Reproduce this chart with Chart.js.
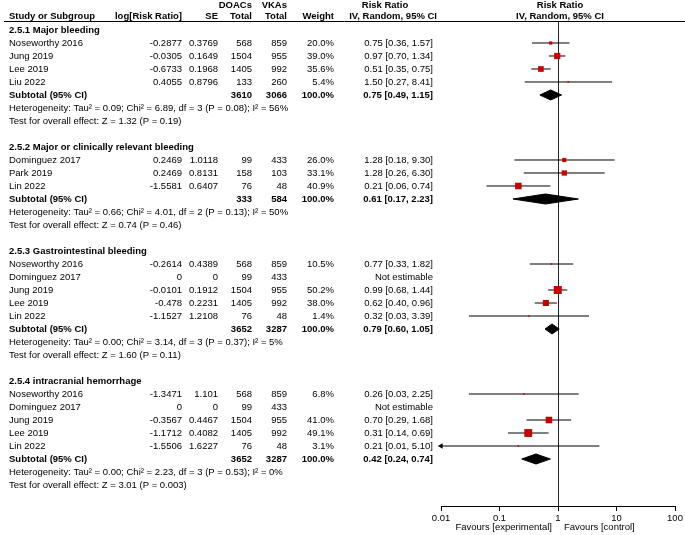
<!DOCTYPE html>
<html><head><meta charset="utf-8">
<script src="https://cdn.jsdelivr.net/npm/chart.js@4.4.0/dist/chart.umd.min.js"></script>
<style>html,body{margin:0;padding:0;background:#fff}#wrap{width:685px;height:535px;position:relative}</style>
</head><body><div id="wrap"><canvas id="c"></canvas></div>
<script>
// ---------- Subgroups ----------
const subgroupTitles = ["2.5.1 Major bleeding", "2.5.2 Major or clinically relevant bleeding", "2.5.3 Gastrointestinal bleeding", "2.5.4 intracranial hemorrhage"];
const subgroupDOACs = [3610, 333, 3652, 3652];
const subgroupVKAs = [3066, 584, 3287, 3287];
const subgroupRR = [0.75, 0.61, 0.79, 0.42];
const subgroupLow = [0.49, 0.17, 0.60, 0.24];
const subgroupHigh = [1.15, 2.23, 1.05, 0.74];
const heterogeneity = [
  "Heterogeneity: Tau\u00B2 = 0.09; Chi\u00B2 = 6.89, df = 3 (P = 0.08); I\u00B2 = 56%",
  "Heterogeneity: Tau\u00B2 = 0.66; Chi\u00B2 = 4.01, df = 2 (P = 0.13); I\u00B2 = 50%",
  "Heterogeneity: Tau\u00B2 = 0.00; Chi\u00B2 = 3.14, df = 3 (P = 0.37); I\u00B2 = 5%",
  "Heterogeneity: Tau\u00B2 = 0.00; Chi\u00B2 = 2.23, df = 3 (P = 0.53); I\u00B2 = 0%"
];
const overallTests = [
  "Test for overall effect: Z = 1.32 (P = 0.19)",
  "Test for overall effect: Z = 0.74 (P = 0.46)",
  "Test for overall effect: Z = 1.60 (P = 0.11)",
  "Test for overall effect: Z = 3.01 (P = 0.003)"
];

// ---------- Studies ----------
const studyGroup = [0,0,0,0, 1,1,1, 2,2,2,2,2, 3,3,3,3,3];
const studyNames = ["Noseworthy 2016","Jung 2019","Lee 2019","Liu 2022",
  "Dominguez 2017","Park 2019","Lin 2022",
  "Noseworthy 2016","Dominguez 2017","Jung 2019","Lee 2019","Lin 2022",
  "Noseworthy 2016","Dominguez 2017","Jung 2019","Lee 2019","Lin 2022"];
const logRR = [-0.2877,-0.0305,-0.6733,0.4055, 0.2469,0.2469,-1.5581, -0.2614,0,-0.0101,-0.478,-1.1527, -1.3471,0,-0.3567,-1.1712,-1.5506];
const seLog = [0.3769,0.1649,0.1968,0.8796, 1.0118,0.8131,0.6407, 0.4389,0,0.1912,0.2231,1.2108, 1.101,0,0.4467,0.4082,1.6227];
const doacTotal = [568,1504,1405,133, 99,158,76, 568,99,1504,1405,76, 568,99,1504,1405,76];
const vkaTotal = [859,955,992,260, 433,103,48, 859,433,955,992,48, 859,433,955,992,48];
const weights = [20.0,39.0,35.6,5.4, 26.0,33.1,40.9, 10.5,null,50.2,38.0,1.4, 6.8,null,41.0,49.1,3.1];
const riskRatio = [0.75,0.97,0.51,1.50, 1.28,1.28,0.21, 0.77,null,0.99,0.62,0.32, 0.26,null,0.70,0.31,0.21];
const ciLow = [0.36,0.70,0.35,0.27, 0.18,0.26,0.06, 0.33,null,0.68,0.40,0.03, 0.03,null,0.29,0.14,0.01];
const ciHigh = [1.57,1.34,0.75,8.41, 9.30,6.30,0.74, 1.82,null,1.44,0.96,3.39, 2.25,null,1.68,0.69,5.10];

// ---------- Axis ----------
const xTicks = [0.01, 0.1, 1, 10, 100];
const xTickLabels = ["0.01", "0.1", "1", "10", "100"];
const favoursLeft = "Favours [experimental]";
const favoursRight = "Favours [control]";

// ---------- Row layout ----------
const rows = [];
let rowIdx = 0;
subgroupTitles.forEach((t, g) => {
  if (g > 0) rowIdx++;
  rows.push({kind: 'title', g, r: rowIdx++});
  studyGroup.forEach((sg, i) => { if (sg === g) rows.push({kind: 'study', i, r: rowIdx++}); });
  rows.push({kind: 'subtotal', g, r: rowIdx++});
  rows.push({kind: 'het', g, r: rowIdx++});
  rows.push({kind: 'test', g, r: rowIdx++});
});
const studyRows = rows.filter(o => o.kind === 'study');
const subRows = rows.filter(o => o.kind === 'subtotal');

const squareData = studyRows.filter(o => riskRatio[o.i] != null)
  .map(o => ({x: riskRatio[o.i], y: o.r, w: weights[o.i]}));
const ciData = [];
studyRows.filter(o => riskRatio[o.i] != null).forEach(o => {
  ciData.push({x: Math.max(ciLow[o.i], xTicks[0]), y: o.r});
  ciData.push({x: ciHigh[o.i], y: o.r});
  ciData.push({x: 1, y: null});
});
const arrowData = studyRows.filter(o => ciLow[o.i] != null && ciLow[o.i] <= xTicks[0])
  .map(o => ({x: xTicks[0], y: o.r}));
const DH = 0.385;
const diamondSets = subRows.map(o => ({
  type: 'line',
  data: [
    {x: subgroupLow[o.g], y: o.r}, {x: subgroupRR[o.g], y: o.r - DH},
    {x: subgroupHigh[o.g], y: o.r}, {x: subgroupRR[o.g], y: o.r + DH},
    {x: subgroupLow[o.g], y: o.r}
  ],
  borderColor: '#000', backgroundColor: '#000', borderWidth: 1,
  fill: 'shape', pointRadius: 0, tension: 0
}));

const FONT = '"Liberation Sans", Arial, sans-serif';
const FS = 9.5;

const tablePlugin = {
  id: 'table',
  afterDraw(chart) {
    const ctx = chart.ctx;
    const ys = chart.scales.y, xs = chart.scales.x;
    const cName = 9, cLog = 182, cSE = 218, cD = 252, cV = 287, cW = 334, cRR = 433;
    const reg = FS + 'px ' + FONT, bold = 'bold ' + FS + 'px ' + FONT;
    const txt = (s, x, y, align, b) => {
      ctx.font = b ? bold : reg; ctx.textAlign = align; ctx.fillText(s, x, y);
    };
    ctx.save();
    ctx.fillStyle = '#000';
    ctx.textBaseline = 'middle';
    // header
    const h1 = 5.5, h2 = 16.5;
    txt('DOACs', cD, h1, 'right', true);
    txt('VKAs', cV, h1, 'right', true);
    txt('Risk Ratio', 385, h1, 'center', true);
    txt('Study or Subgroup', cName, h2, 'left', true);
    txt('log[Risk Ratio]', cLog, h2, 'right', true);
    txt('SE', cSE, h2, 'right', true);
    txt('Total', cD, h2, 'right', true);
    txt('Total', cV, h2, 'right', true);
    txt('Weight', cW, h2, 'right', true);
    txt('IV, Random, 95% CI', 437, h2, 'right', true);
    const mid = (xs.left + xs.right) / 2;
    txt('Risk Ratio', mid + 2, h1, 'center', true);
    txt('IV, Random, 95% CI', mid + 2, h2, 'center', true);
    ctx.strokeStyle = '#000'; ctx.lineWidth = 1;
    ctx.beginPath(); ctx.moveTo(4, 21.5); ctx.lineTo(685, 21.5); ctx.stroke();

    rows.forEach(o => {
      const y = ys.getPixelForValue(o.r);
      if (o.kind === 'title') txt(subgroupTitles[o.g], cName, y, 'left', true);
      else if (o.kind === 'study') {
        const i = o.i;
        txt(studyNames[i], cName, y, 'left');
        txt(String(logRR[i]), cLog, y, 'right');
        txt(String(seLog[i]), cSE, y, 'right');
        txt(String(doacTotal[i]), cD, y, 'right');
        txt(String(vkaTotal[i]), cV, y, 'right');
        if (weights[i] != null) txt(weights[i].toFixed(1) + '%', cW, y, 'right');
        if (riskRatio[i] != null)
          txt(riskRatio[i].toFixed(2) + ' [' + ciLow[i].toFixed(2) + ', ' + ciHigh[i].toFixed(2) + ']', cRR, y, 'right');
        else txt('Not estimable', cRR, y, 'right');
      } else if (o.kind === 'subtotal') {
        const g = o.g;
        txt('Subtotal (95% CI)', cName, y, 'left', true);
        txt(String(subgroupDOACs[g]), cD, y, 'right', true);
        txt(String(subgroupVKAs[g]), cV, y, 'right', true);
        txt('100.0%', cW, y, 'right', true);
        txt(subgroupRR[g].toFixed(2) + ' [' + subgroupLow[g].toFixed(2) + ', ' + subgroupHigh[g].toFixed(2) + ']', cRR, y, 'right', true);
      } else if (o.kind === 'het') txt(heterogeneity[o.g], cName, y, 'left');
      else if (o.kind === 'test') txt(overallTests[o.g], cName, y, 'left');
    });
    // favours labels
    const one = xs.getPixelForValue(1);
    txt(favoursLeft, one - 6, 527, 'right');
    txt(favoursRight, one + 6, 527, 'left');
    ctx.restore();
  }
};

new Chart(document.getElementById('c'), {
  type: 'line',
  data: {
    datasets: [
      {type: 'scatter', data: squareData, pointStyle: 'rect', backgroundColor: '#c80000', borderColor: '#c80000',
       borderWidth: 0, pointRadius: c => Math.max(1.1, (c.raw && c.raw.w || 0) * 0.113), pointHoverRadius: c => Math.max(1.1, (c.raw && c.raw.w || 0) * 0.113)},
      {type: 'scatter', data: arrowData, pointStyle: 'triangle', rotation: 270, pointRadius: 3.2,
       backgroundColor: '#000', borderColor: '#000', borderWidth: 0, clip: false},
      ...diamondSets,
      {type: 'line', data: ciData, borderColor: '#000', borderWidth: 1, pointRadius: 0, spanGaps: false, tension: 0, fill: false}
    ]
  },
  options: {
    animation: false,
    responsive: true,
    maintainAspectRatio: false,
    devicePixelRatio: 1,
    layout: {padding: {left: 441, right: 10, top: 22, bottom: 0}},
    plugins: {legend: {display: false}, tooltip: {enabled: false}, title: {display: false}},
    scales: {
      x: {
        type: 'logarithmic', min: xTicks[0], max: xTicks[xTicks.length - 1],
        afterBuildTicks: s => { s.ticks = xTicks.map(v => ({value: v})); },
        afterFit: s => { s.height = 29; },
        ticks: {autoSkip: false, maxRotation: 0, padding: 2, color: '#000',
          font: {family: FONT, size: FS},
          callback: v => { const k = xTicks.indexOf(v); return k >= 0 ? xTickLabels[k] : ''; }},
        grid: {drawOnChartArea: true, tickLength: 5, tickColor: '#000', tickWidth: 1,
          color: c => (c.tick && c.tick.value === 1) ? '#222' : 'rgba(0,0,0,0)', lineWidth: 1},
        border: {display: true, color: '#000', width: 1}
      },
      y: {type: 'linear', display: false, reverse: true, min: -0.615, max: 36.615}
    }
  },
  plugins: [tablePlugin]
});
</script></body></html>
